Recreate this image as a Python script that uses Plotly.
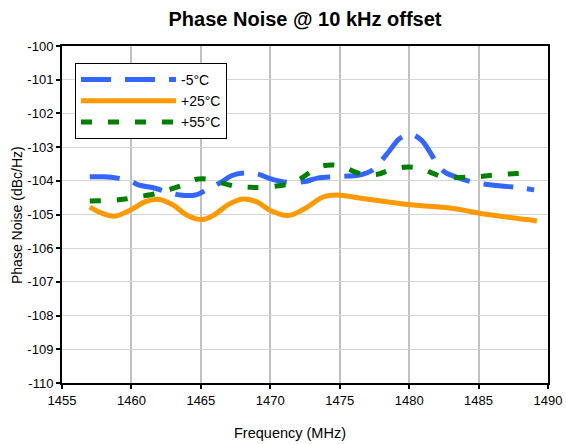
import plotly.graph_objects as go

# -5°C
f_m5 = [1457, 1458, 1459, 1460, 1460.5, 1461.7, 1462.5, 1463.5, 1464.6, 1465.5, 1466.5, 1467.2, 1468.1, 1469.1, 1470.1,
        1471.3, 1472.5, 1473.4, 1474.5, 1475.6, 1476.4, 1477.3, 1477.8, 1478.6, 1479.3, 1480.1, 1480.9, 1481.5, 1482.1,
        1482.6, 1483.6, 1484.7, 1485.8, 1486.8, 1487.8, 1489]
pn_m5 = [-103.88, -103.88, -103.92, -104.02, -104.12, -104.22, -104.32, -104.42, -104.42, -104.25, -104.03, -103.85, -103.77, -103.8, -103.95,
         -104.05, -104.02, -103.92, -103.88, -103.86, -103.83, -103.7, -103.5, -103.1, -102.75, -102.62, -102.8, -103.15, -103.55,
         -103.75, -103.92, -104.05, -104.12, -104.16, -104.2, -104.27]

# +25°C
f_p25 = [1457, 1458, 1458.8, 1460, 1461, 1461.9, 1463, 1464, 1465.1, 1466, 1467, 1468, 1469, 1470, 1471.3, 1472.5,
         1473.8, 1474.8, 1476.4, 1478, 1480.3, 1482.9, 1485.8, 1489.2]
pn_p25 = [-104.78, -104.98, -105.05, -104.85, -104.62, -104.55, -104.72, -105.02, -105.15, -105.0, -104.7, -104.54, -104.62, -104.88, -105.03, -104.82,
          -104.48, -104.42, -104.51, -104.6, -104.72, -104.81, -105.01, -105.19]

# +55°C
f_p55 = [1457, 1458.3, 1459.4, 1460.5, 1461.8, 1462.4, 1463.9, 1464.6, 1465.5, 1466.4, 1467.6, 1468.4, 1469.4, 1470.9, 1471.6,
         1472.5, 1473.4, 1474.5, 1475.3, 1476.6, 1477.8, 1478.6, 1479.6, 1480.7, 1481.5, 1482.4, 1483.6, 1484.5, 1485.1,
         1485.8, 1486.5, 1487.8, 1488.5]
pn_p55 = [-104.6, -104.58, -104.55, -104.47, -104.38, -104.3, -104.1, -103.96, -103.95, -104.05, -104.17, -104.19, -104.2, -104.13, -104.08,
          -103.85, -103.6, -103.53, -103.6, -103.8, -103.8, -103.68, -103.6, -103.62, -103.74, -103.88, -103.9, -103.89, -103.88,
          -103.84, -103.82, -103.78, -103.76]

x_ticks = [1455, 1460, 1465, 1470, 1475, 1480, 1485, 1490]
y_ticks = [-100, -101, -102, -103, -104, -105, -106, -107, -108, -109, -110]

FONT = "Liberation Sans, Arial, sans-serif"

fig = go.Figure()
fig.add_trace(go.Scatter(x=f_m5, y=pn_m5, mode="lines", name="-5°C",
                         line=dict(color="#3366FF", width=5, dash="30px,14px", shape="spline", smoothing=1)))
fig.add_trace(go.Scatter(x=f_p25, y=pn_p25, mode="lines", name="+25°C",
                         line=dict(color="#FF9900", width=5, shape="spline", smoothing=1)))
fig.add_trace(go.Scatter(x=f_p55, y=pn_p55, mode="lines", name="+55°C",
                         line=dict(color="#008000", width=5, dash="11px,16px", shape="spline", smoothing=1)))

fig.update_layout(
    width=566, height=444,
    margin=dict(l=62, r=18, t=46, b=61, autoexpand=False),
    paper_bgcolor="white", plot_bgcolor="white",
    font=dict(family=FONT, size=13, color="black"),
    title=dict(text="<b>Phase Noise @ 10 kHz offset</b>", x=305 / 566, xanchor="center",
               y=1 - 18.5 / 444, yanchor="middle",
               font=dict(family=FONT, size=20, color="black")),
    showlegend=True,
    legend=dict(x=0.0267, y=0.9496, xanchor="left", yanchor="top",
                bgcolor="white", bordercolor="black", borderwidth=1,
                font=dict(family=FONT, size=14, color="black"),
                itemwidth=95, tracegroupgap=0),
    xaxis=dict(range=[1455, 1490], tickvals=x_ticks, ticktext=[str(v) for v in x_ticks],
               showgrid=True, gridcolor="#C0C0C0", gridwidth=2,
               showline=True, linecolor="black", linewidth=2, mirror=True,
               ticks="outside", ticklen=4, tickwidth=2, tickcolor="black",
               tickfont=dict(family=FONT, size=13), zeroline=False, automargin=False),
    yaxis=dict(range=[-110, -100], tickvals=y_ticks, ticktext=[str(v) for v in y_ticks],
               showgrid=True, gridcolor="#D4D4D4", gridwidth=1,
               showline=True, linecolor="black", linewidth=2, mirror=True,
               ticks="outside", ticklen=4, tickwidth=2, tickcolor="black",
               tickfont=dict(family=FONT, size=13), zeroline=False, automargin=False),
    annotations=[
        dict(text="Frequency (MHz)", xref="paper", yref="paper", x=(290 - 62) / 486, y=-(433 - 383) / 337,
             xanchor="center", yanchor="middle", showarrow=False, font=dict(family=FONT, size=14.5)),
        dict(text="Phase Noise (dBc/Hz)", xref="paper", yref="paper", x=-(62 - 17) / 486, y=(383 - 215) / 337,
             xanchor="center", yanchor="middle", textangle=-90, showarrow=False, font=dict(family=FONT, size=14)),
    ],
)

fig.write_html("out.html", config={"displayModeBar": False},
               post_script="document.body.style.margin='0';document.body.style.padding='0';")
